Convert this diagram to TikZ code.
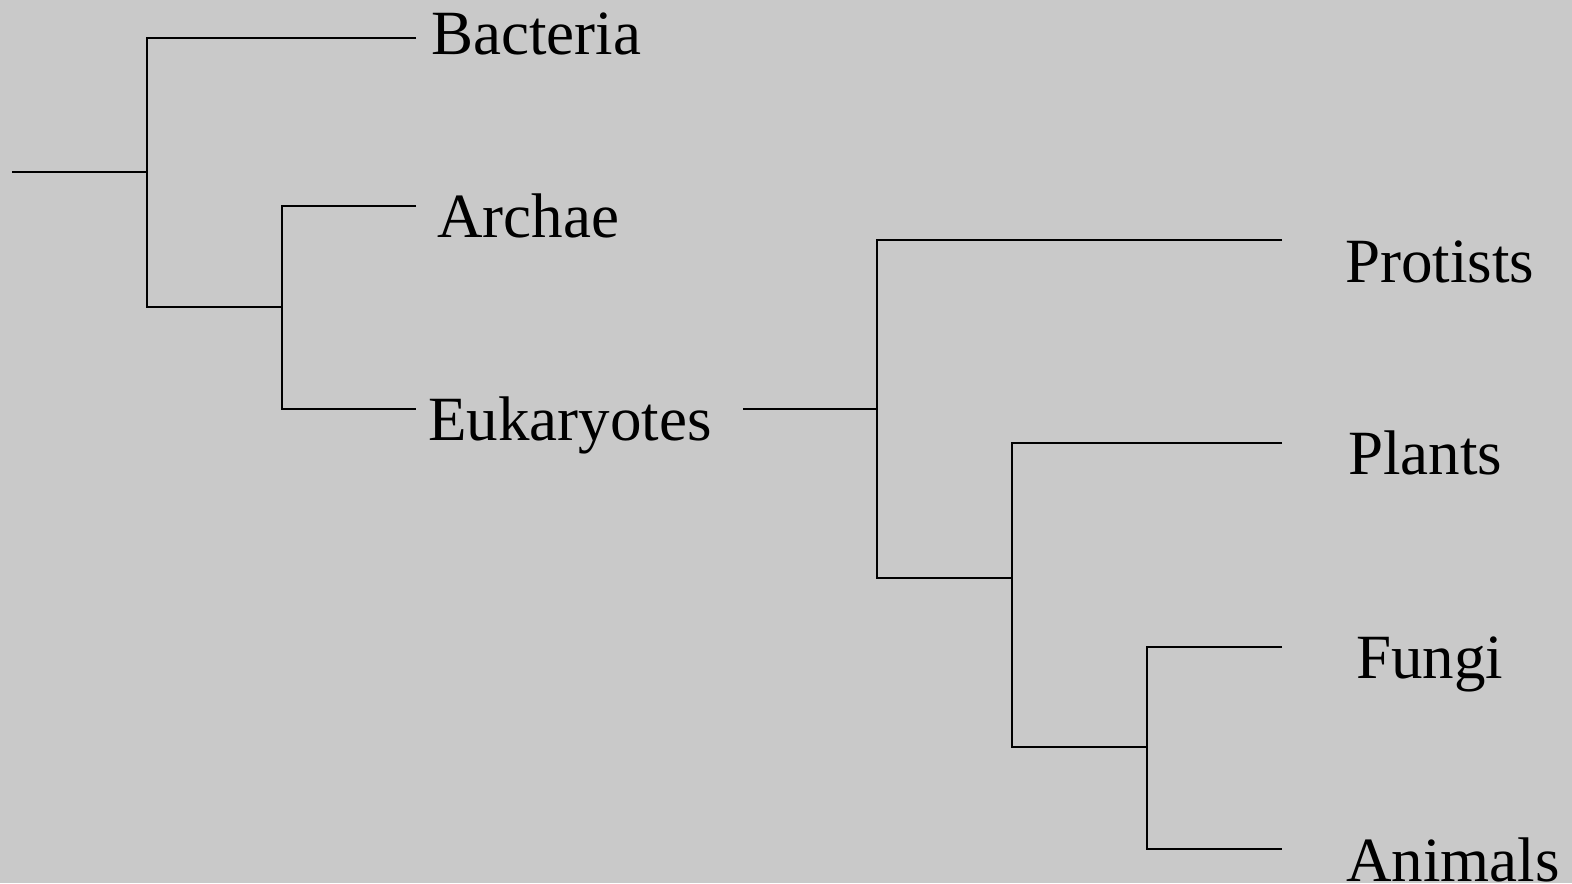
\documentclass[tikz,border=0pt]{standalone}
\usepackage{fontspec}
\setmainfont{Liberation Serif}
\definecolor{bg}{RGB}{201,201,201}
\begin{document}
\begin{tikzpicture}[x=0.5pt,y=-0.5pt,
  branch/.style={draw=black,line width=1pt},
  taxon/.style={anchor=base west,inner sep=0pt,font=\fontsize{31.5}{38}\selectfont}]
\useasboundingbox (0,0) rectangle (1572,883);
\clip (0,0) rectangle (1572,883);
\fill[bg] (0,0) rectangle (1572,883);
% junction coordinates
\coordinate (r0) at (12,172);
\coordinate (r1) at (147,172);
\coordinate (bt) at (147,38);
\coordinate (bb) at (147,307);
\coordinate (be) at (416,38);
\coordinate (a1) at (282,307);
\coordinate (at) at (282,206);
\coordinate (ab) at (282,409);
\coordinate (ae) at (416,206);
\coordinate (ee) at (416,409);
\coordinate (e0) at (743,409);
\coordinate (e1) at (877,409);
\coordinate (et) at (877,240);
\coordinate (eb) at (877,578);
\coordinate (pe) at (1282,240);
\coordinate (p1) at (1012,578);
\coordinate (pt) at (1012,443);
\coordinate (pb) at (1012,747);
\coordinate (le) at (1282,443);
\coordinate (f1) at (1147,747);
\coordinate (ft) at (1147,647);
\coordinate (fb) at (1147,849);
\coordinate (fe) at (1282,647);
\coordinate (ne) at (1282,849);
% labels
\node[taxon] (bac) at (431,55) {Bacteria};
\node[taxon] (arc) at (437,237) {Archae};
\node[taxon] (euk) at (428,440) {Eukaryotes};
\node[taxon] (pro) at (1345,282) {Protists};
\node[taxon] (pla) at (1348,474) {Plants};
\node[taxon] (fun) at (1356,678) {Fungi};
\node[taxon] (ani) at (1346,881) {Animals};
% branches
\draw[branch] (r0) -- (r1);
\draw[branch] (be) -- (bt) -- (bb) -- (a1);
\draw[branch] (ae) -- (at) -- (ab) -- (ee);
\draw[branch] (e0) -- (e1);
\draw[branch] (pe) -- (et) -- (eb) -- (p1);
\draw[branch] (le) -- (pt) -- (pb) -- (f1);
\draw[branch] (fe) -- (ft) -- (fb) -- (ne);
\end{tikzpicture}
\end{document}
